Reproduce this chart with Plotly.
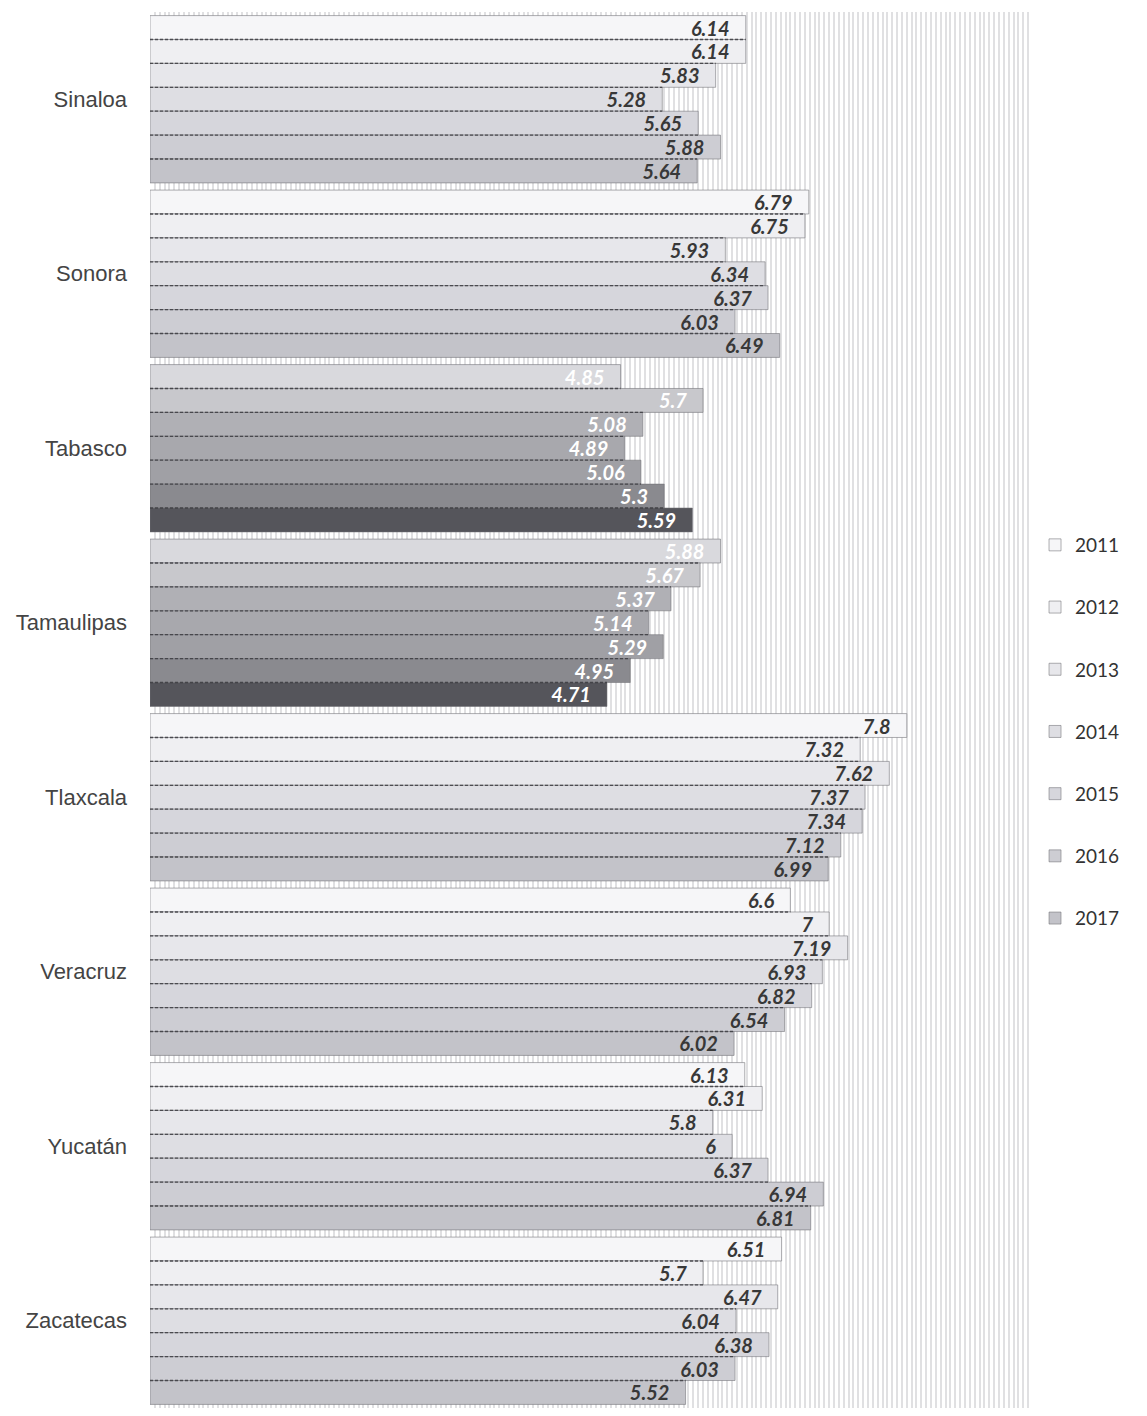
import plotly.graph_objects as go

# ---------------- data ----------------
states = ["Sinaloa", "Sonora", "Tabasco", "Tamaulipas", "Tlaxcala", "Veracruz", "Yucatán", "Zacatecas"]
years = ["2011", "2012", "2013", "2014", "2015", "2016", "2017"]

v2011 = [6.14, 6.79, 4.85, 5.88, 7.80, 6.60, 6.13, 6.51]
v2012 = [6.14, 6.75, 5.70, 5.67, 7.32, 7.00, 6.31, 5.70]
v2013 = [5.83, 5.93, 5.08, 5.37, 7.62, 7.19, 5.80, 6.47]
v2014 = [5.28, 6.34, 4.89, 5.14, 7.37, 6.93, 6.00, 6.04]
v2015 = [5.65, 6.37, 5.06, 5.29, 7.34, 6.82, 6.37, 6.38]
v2016 = [5.88, 6.03, 5.30, 4.95, 7.12, 6.54, 6.94, 6.03]
v2017 = [5.64, 6.49, 5.59, 4.71, 6.99, 6.02, 6.81, 5.52]
series = [v2011, v2012, v2013, v2014, v2015, v2016, v2017]

# ---------------- styles ----------------
light_shades = ["#f6f6f8", "#efeff2", "#e7e7eb", "#dedee3", "#d6d6dc", "#cdcdd3", "#c3c3c9"]
dark_shades = ["#d9d9dd", "#c8c8cc", "#b0b0b5", "#a8a8ad", "#a0a0a5", "#8a8a8f", "#55555b"]
dark_groups = {"Tabasco", "Tamaulipas"}
BAR_W = 0.137
LABEL_FONT = "Lato, 'Open Sans', sans-serif"
CAT_FONT = "'Liberation Sans', Arial, sans-serif"

fig = go.Figure()

n_years = len(years)
mid = (n_years - 1) / 2

for j, (yr, vals) in enumerate(zip(years, series)):
    ypos = [i + (j - mid) * BAR_W for i in range(len(states))]
    colors = [dark_shades[j] if s in dark_groups else light_shades[j] for s in states]
    tcolors = ["#ffffff" if s in dark_groups else "#383838" for s in states]
    fig.add_trace(go.Bar(
        x=vals, y=ypos, orientation="h", width=BAR_W,
        name=yr, legendgroup=yr,
        marker=dict(color=colors, line=dict(color="rgba(110,110,115,0.55)", width=1)),
        text=[f"{v:g}\u00a0\u00a0\u00a0" for v in vals],
        textposition="inside", insidetextanchor="end", textangle=0,
        constraintext="none",
        textfont=dict(family=LABEL_FONT, size=20, color=tcolors, weight="bold", style="italic"),
        hoverinfo="x+name",
    ))

# dashed separators between consecutive bars of each group
dx, dy = [], []
for j in range(1, n_years):
    for i in range(len(states)):
        end = min(series[j - 1][i], series[j][i])
        yy = i + (j - mid - 0.5) * BAR_W
        dx += [0, end, None]
        dy += [yy, yy, None]
fig.add_trace(go.Scatter(
    x=dx, y=dy, mode="lines", showlegend=False, hoverinfo="skip",
    line=dict(color="rgba(60,60,65,0.85)", width=1.3, dash="3px,2px"),
))

fig.update_layout(
    width=1131, height=1400,
    margin=dict(l=142, r=109, t=4, b=0, autoexpand=False),
    paper_bgcolor="white", plot_bgcolor="white",
    barmode="overlay",
    showlegend=True,
    legend=dict(
        x=1.0057, xanchor="left", y=0.6318, yanchor="top",
        traceorder="grouped", tracegroupgap=34.5,
        font=dict(family=LABEL_FONT, size=19, color="#333333"),
        itemwidth=30, bgcolor="rgba(0,0,0,0)",
    ),
    xaxis=dict(
        range=[0, 9.07], showticklabels=False, ticks="",
        showgrid=True, dtick=0.05, tick0=0, gridcolor="#e0e0e2", gridwidth=2,
        zeroline=False, showline=False, automargin=False,
    ),
    yaxis=dict(
        range=[len(states) - 0.5, -0.5],
        tickvals=list(range(len(states))), ticktext=states,
        showgrid=False, zeroline=False, showline=False, ticks="",
        ticklabelstandoff=22, automargin=False,
        tickfont=dict(family=CAT_FONT, size=22, color="#444444"),
    ),
)

fig.write_html("out.html")
